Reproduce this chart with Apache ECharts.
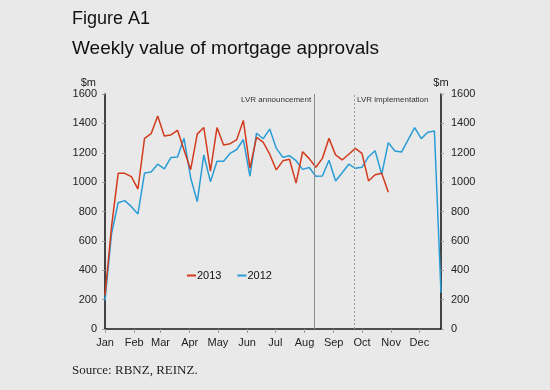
<!DOCTYPE html>
<html>
<head>
<meta charset="utf-8">
<script src="https://cdn.jsdelivr.net/npm/echarts@6/dist/echarts.min.js"></script>
<style>
html,body{margin:0;padding:0;background:#e9e9e9;}
#chart{width:550px;height:390px;}
</style>
</head>
<body>
<div id="chart"></div>
<script>
// Weekly value of mortgage approvals ($m), week index 0..51
var values2013 = [230, 700, 1060, 1060, 1037, 953, 1298, 1330, 1450, 1314, 1321, 1353, 1219, 1085, 1327, 1372, 1075, 1371, 1253, 1262, 1290, 1420, 1095, 1305, 1272, 1190, 1083, 1145, 1156, 993, 1207, 1160, 1101, 1162, 1298, 1185, 1151, 1190, 1230, 1196, 1008, 1050, 1060, 931];
var values2012 = [195, 650, 860, 874, 833, 783, 1062, 1069, 1122, 1090, 1167, 1171, 1298, 1030, 867, 1185, 1003, 1142, 1142, 1196, 1222, 1290, 1040, 1333, 1295, 1361, 1230, 1169, 1180, 1146, 1087, 1100, 1040, 1042, 1149, 1008, 1064, 1122, 1094, 1101, 1173, 1214, 1053, 1269, 1212, 1205, 1287, 1371, 1296, 1340, 1348, 247];
var monthLabels = ['Jan','Feb','Mar','Apr','May','Jun','Jul','Aug','Sep','Oct','Nov','Dec'];
var monthStartDays = [0, 31, 59, 90, 120, 151, 181, 212, 243, 273, 304, 334];
var yTicks = [0, 200, 400, 600, 800, 1000, 1200, 1400, 1600];
var eventNames = ['LVR announcement', 'LVR implementation'];
var eventWeeks = [31.75, 37.8];

var monthWeeks = monthStartDays.map(function (d) { return d / 7; });
function toPairs(arr) { return arr.map(function (v, i) { return [i, v]; }); }

var chart = echarts.init(document.getElementById('chart'), null, {renderer: 'canvas'});
var font = 'Liberation Sans, Arial, sans-serif';
var RED = '#d23b1e', BLUE = '#2a9dd6';

function yAxisDef(pos) {
  return {
    type: 'value', position: pos, min: yTicks[0], max: yTicks[yTicks.length - 1], interval: 200,
    name: '$m', nameLocation: 'end', nameGap: 5,
    nameTextStyle: pos === 'left'
      ? {color: '#222', fontSize: 11, fontFamily: font, align: 'right', padding: [0, 9, 0, 0]}
      : {color: '#222', fontSize: 11, fontFamily: font, align: 'center'},
    axisLine: {show: true, lineStyle: {color: '#1a1a1a', width: 1.6}},
    axisTick: {show: true, length: 3, lineStyle: {color: '#a0a0a0'}},
    axisLabel: {color: '#222', fontSize: 11, fontFamily: font, margin: pos === 'left' ? 8 : 10,
      formatter: function (v) { return String(v); }},
    splitLine: {show: false}
  };
}

var option = {
  backgroundColor: '#e9e9e9',
  animation: false,
  title: [
    {text: 'Figure A1', left: 67, top: 5, textStyle: {fontFamily: font, fontSize: 18, fontWeight: 'normal', color: '#111'}},
    {text: 'Weekly value of mortgage approvals', left: 67, top: 34, textStyle: {fontFamily: font, fontSize: 19, fontWeight: 'normal', color: '#111'}},
    {text: 'Source: RBNZ, REINZ.', left: 67, top: 359, textStyle: {fontFamily: 'Liberation Serif, Times New Roman, serif', fontSize: 13, fontWeight: 'normal', color: '#222'}}
  ],
  grid: {left: 105, right: 109, top: 94, bottom: 61, containLabel: false},
  legend: {
    left: 182, top: 265, itemWidth: 9, itemHeight: 2, itemGap: 16, icon: 'rect',
    textStyle: {fontFamily: font, fontSize: 11, color: '#111', padding: [0, 0, 0, -4]},
    data: ['2013', '2012']
  },
  xAxis: {
    type: 'value', min: 0, max: 51,
    axisLine: {show: true, onZero: false, lineStyle: {color: '#1a1a1a', width: 1.6}},
    axisTick: {show: true, length: 4, customValues: monthWeeks, lineStyle: {color: '#a0a0a0'}},
    axisLabel: {
      customValues: monthWeeks, color: '#222', fontSize: 11, fontFamily: font, margin: 8,
      formatter: function (v) {
        for (var i = 0; i < monthWeeks.length; i++) {
          if (Math.abs(monthWeeks[i] - v) < 0.01) return monthLabels[i];
        }
        return '';
      }
    },
    splitLine: {show: false}
  },
  yAxis: [yAxisDef('left'), yAxisDef('right')],
  series: [
    {
      name: '2013', type: 'line', data: toPairs(values2013), showSymbol: false, symbol: 'none',
      lineStyle: {color: RED, width: 1.5}, itemStyle: {color: RED}, z: 3,
      markLine: {
        silent: true, symbol: 'none', label: {show: false},
        data: [
          {xAxis: eventWeeks[0], lineStyle: {color: '#8a8a8a', width: 1, type: 'solid'}},
          {xAxis: eventWeeks[1], lineStyle: {color: '#9a9a9a', width: 1, type: [2, 2]}}
        ]
      }
    },
    {
      name: '2012', type: 'line', data: toPairs(values2012), showSymbol: false, symbol: 'none',
      lineStyle: {color: BLUE, width: 1.5}, itemStyle: {color: BLUE}, z: 2
    }
  ]
};
chart.setOption(option);

var p0 = chart.convertToPixel({xAxisIndex: 0, yAxisIndex: 0}, [eventWeeks[0], 1600]);
var p1 = chart.convertToPixel({xAxisIndex: 0, yAxisIndex: 0}, [eventWeeks[1], 1600]);
chart.setOption({
  graphic: [
    {type: 'text', x: p0[0] - 3, y: p0[1] + 2, style: {text: eventNames[0], fill: '#333', font: '8px ' + font, textAlign: 'right', textVerticalAlign: 'top'}},
    {type: 'text', x: p1[0] + 3, y: p1[1] + 2, style: {text: eventNames[1], fill: '#333', font: '8px ' + font, textAlign: 'left', textVerticalAlign: 'top'}}
  ]
});
</script>
</body>
</html>
